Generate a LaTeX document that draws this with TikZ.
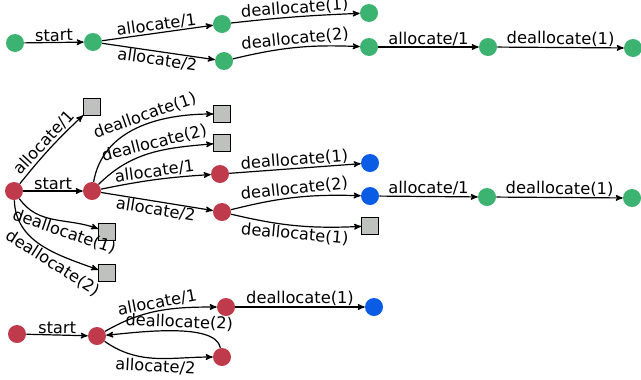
\documentclass[tikz,border=0pt]{standalone}
\usepackage{fontspec}
\setmainfont{DejaVu Sans}
\usetikzlibrary{arrows}
\definecolor{okgreen}{HTML}{3CB371}
\definecolor{errred}{HTML}{BF3B4B}
\definecolor{doneblue}{HTML}{0B5CE5}
\definecolor{trapgray}{HTML}{BFC1BF}
\tikzstyle{okstate} = [circle, fill=okgreen, minimum size=13.5pt, inner sep=0pt]
\tikzstyle{errstate} = [circle, fill=errred, minimum size=13.5pt, inner sep=0pt]
\tikzstyle{freestate} = [circle, fill=doneblue, minimum size=13.5pt, inner sep=0pt]
\tikzstyle{trap} = [rectangle, fill=trapgray, draw=black, thick, minimum size=12.5pt, inner sep=0pt]
\tikzstyle{arrow} = [line width=0.9pt,->,>=stealth']
\tikzstyle{lbl} = [sloped, inner sep=0.5pt, font=\fontsize{12.2}{14}\selectfont]

\begin{document}
\begin{tikzpicture}[x=0.75pt, y=-0.75pt]
    \useasboundingbox (0,0) rectangle (641,379);

    % all good
    \node (g1) [okstate] at (15,43) {};
    \node (g2) [okstate] at (93,42) {};
    \node (g3) [okstate] at (222,24) {};
    \node (g4) [okstate] at (224,61) {};
    \node (g5) [okstate] at (369,13) {};
    \node (g6) [okstate] at (369,47) {};
    \node (g7) [okstate] at (488,47) {};
    \node (g8) [okstate] at (633,48) {};

    \draw [arrow] (g1) -- node [lbl, above] {start} (g2);
    \draw [arrow] (g2) -- node [lbl, above] {allocate/1} (g3);
    \draw [arrow] (g2) -- node [lbl, below] {allocate/2} (g4);
    \draw [arrow] (g3) to [bend left=2] node [lbl, above] {deallocate(1)} (g5);
    \draw [arrow] (g4) to [bend left=8] node [lbl, above] {deallocate(2)} (g6);
    \draw [arrow] (g6) -- node [lbl, above] {allocate/1} (g7);
    \draw [arrow] (g7) -- node [lbl, above] {deallocate(1)} (g8);

    % errors
    \node (r1) [errstate] at (14,191) {};
    \node (r2) [errstate] at (92,191) {};
    \node (r3) [errstate] at (220,174) {};
    \node (r4) [errstate] at (222,212) {};
    \node (ta) [trap] at (92,107) {};
    \node (tb) [trap] at (222,114) {};
    \node (tc) [trap] at (222,143) {};
    \node (td) [trap] at (370,226) {};
    \node (te) [trap] at (107,232) {};
    \node (tf) [trap] at (107,273) {};
    \node (b1) [freestate] at (370,163) {};
    \node (b2) [freestate] at (370,196) {};
    \node (g9) [okstate] at (487,197) {};
    \node (g10) [okstate] at (632,198) {};

    \draw [arrow] (r1) -- node [lbl, above] {start} (r2);
    \draw [arrow] (r1) to [bend left=4] node [lbl, above] {allocate/1} (ta);
    \draw [arrow] (r1) to [out=-55, in=160] node [lbl, below, pos=0.66, rotate=-10, inner sep=2pt] {deallocate(1)} (te);
    \draw [arrow] (r1) to [out=-88, in=160] node [lbl, below, pos=0.66, rotate=-8, inner sep=2pt] {deallocate(2)} (tf);
    \draw [arrow] (r2) to [out=80, in=180] node [lbl, above, pos=0.58] {deallocate(1)} (tb);
    \draw [arrow] (r2) to [out=45, in=185] node [lbl, above, pos=0.55] {deallocate(2)} (tc);
    \draw [arrow] (r2) to [bend left=4] node [lbl, above] {allocate/1} (r3);
    \draw [arrow] (r2) -- node [lbl, below] {allocate/2} (r4);
    \draw [arrow] (r3) -- node [lbl, above] {deallocate(1)} (b1);
    \draw [arrow] (r4) to [bend left=8] node [lbl, above] {deallocate(2)} (b2);
    \draw [arrow] (r4) to [bend right=8] node [lbl, below] {deallocate(1)} (td);
    \draw [arrow] (b2) -- node [lbl, above] {allocate/1} (g9);
    \draw [arrow] (g9) -- node [lbl, above] {deallocate(1)} (g10);

    % loop back
    \node (r5) [errstate] at (17,334) {};
    \node (r6) [errstate] at (97,336) {};
    \node (r7) [errstate] at (226,307) {};
    \node (r8) [errstate] at (222,357) {};
    \node (b3) [freestate] at (374,307) {};

    \draw [arrow] (r5) -- node [lbl, above] {start} (r6);
    \draw [arrow] (r6) to [out=30, in=180] node [lbl, above] {allocate/1} (r7);
    \draw [arrow] (r7) -- node [lbl, above] {deallocate(1)} (b3);
    \draw [arrow] (r8) to [out=100, in=5, looseness=0.6] node [lbl, above, pos=0.45] {deallocate(2)} (r6);
    \draw [arrow] (r6) to [out=-35, in=180] node [lbl, below] {allocate/2} (r8);
\end{tikzpicture}
\end{document}
